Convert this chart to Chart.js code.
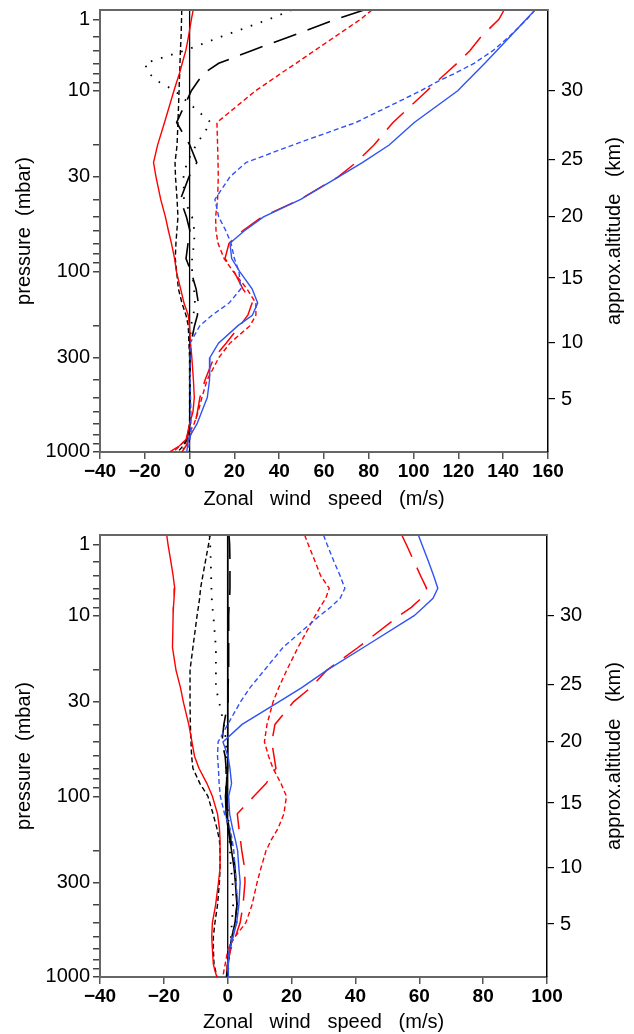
<!DOCTYPE html>
<html><head><meta charset="utf-8">
<script src="https://cdn.jsdelivr.net/npm/chart.js@4"></script>
<style>
html,body{margin:0;padding:0;background:#fff;width:634px;height:1034px;overflow:hidden;}
canvas{position:absolute;left:0;}
#c1{top:0}#c2{top:517px}
</style></head><body>
<canvas id="c1" width="634" height="517"></canvas>
<canvas id="c2" width="634" height="517"></canvas>
<script>
// pressure levels (mbar) at which all profiles are given
const levels = [0.7,1,2,3,4,5,7,10,15,20,25,30,40,50,60,70,85,100,125,150,175,200,250,300,400,500,600,700,850,925,1000];

// ---- top panel: zonal wind (m/s) ----
const topRedSolid   = [1.6,0.8,-0.5,-1.7,-3.3,-4.5,-5.8,-7,-11.2,-14.3,-16.1,-15,-12.9,-10.8,-9.4,-8.1,-6.7,-5.9,-4,-2.5,-0.6,-0.1,0.4,1,1.7,2.1,1.5,0,-1.5,-4.5,-8.8];
const topRedShort   = [81.4,76.3,64.9,55.7,47.5,40.8,35,29.5,12.2,12.5,12.7,12.8,12.5,11.6,11.8,12.7,15.4,19.4,25.6,29.6,29.6,27,18,13.1,7.8,5.5,3.8,2,-1.6,-4.3,-7.3];
const topRedLong    = [140.4,138.1,130.1,125.1,119.4,114.5,110,106,90.8,82.3,74.3,66.3,49.3,32.3,23.4,17.6,15.8,19.8,23.8,27.9,26,22.5,16.3,10.9,6.9,4.6,3.5,2.4,-0.3,-1.6,-3.4];
const topBlueSolid  = [154.2,150.3,143,137.1,131.8,127.4,123.4,119.7,100.3,89.1,77.1,66.5,49.6,33,24.2,18,18.8,22.3,27.9,30.4,28,21.6,12.9,9.1,8.9,7.9,5.4,3.3,-0.7,-0.9,-1.3];
const topBlueShort  = [154.2,150.6,142.6,135.4,127,118.5,110,103.3,74.2,46,25.2,18,11.3,13,16.3,18.5,20,22,22.9,17.6,10,4.6,0.2,0.2,0.2,0.4,0.6,0.6,0.2,-0.3,-0.6];
const topBlackShort = [-3.5,-3.6,-3.8,-4.1,-4.3,-4.4,-4.6,-4.7,-5.2,-5.6,-6.5,-6.3,-5.6,-5.2,-5.7,-6.1,-6.4,-5.8,-5,-3.4,-1.6,-0.6,-0.3,0,0,0,0,0,-1.2,-2.9,-5.2];
const topBlackDot   = [45.6,35.4,14.1,-2.3,-20,-18.3,-13.4,-6.6,9.5,2.9,-1.2,-2.7,-2.5,1.1,2.2,2,1.1,1.1,2,2.4,1.7,0.6,0.2,0.2,0.2,0.2,0.2,0.2,-0.7,-2,-3.4];
const topBlackLong  = [77.9,65.2,44.6,27.6,13,6.3,3.4,0.8,-5.8,0.1,3.2,-0.3,-4.1,-1.4,0.2,-0.7,-1.6,0.6,2.9,3.9,3.5,2.2,0.6,0.2,0.2,0.2,0.2,0.2,-1.2,-2.5,-4.3];

// ---- bottom panel: zonal wind (m/s) ----
const botRedSolid   = [-19.1,-18.7,-17.8,-17.1,-16.6,-16.8,-17,-17.1,-17.3,-16.2,-14.8,-13.9,-12.2,-11.2,-10.4,-9,-6.5,-4.8,-3.2,-2.6,-2.4,-2.4,-2.4,-2.9,-3.8,-4.8,-5,-4.8,-4.5,-4,-3.4];
const botRedShort   = [24.1,25.2,27.4,29.1,31.8,30.7,28.9,27.4,22,18.5,16,14.2,12.3,11.5,12.8,14.2,16.7,18.4,17.6,15.8,13.6,12,10.4,9.2,7.6,5.7,2.3,0.1,-0.8,-1.2,-1.5];
const botRedLong    = [54.5,55.9,58.4,60.4,62.3,60.6,57.5,53.7,40.8,31.1,26,20.6,14.8,13.8,14.5,15.1,12,8.2,3,3.5,4,4.4,5.3,5.4,4.8,3.9,2.4,1,-0.1,-0.2,-0.3];
const botBlueSolid  = [59.7,60.8,62.9,64.5,65.8,64.3,61.3,58.4,42.5,31.1,23.2,16,4.5,-1.5,0.1,0.7,1.2,0.3,0.6,1.5,2.4,3.1,3.5,3.9,3.5,2.8,1.7,0.6,0.2,0.2,0.2];
const botBlueShort  = [30,31.1,33.3,35.2,36.7,35.2,32.2,28.8,17.3,11.5,7,4,0,-3,-3.2,-2.9,-2.7,-2.3,-1,0.7,1.4,1.9,2.3,2.6,3.2,2.9,1.3,0.4,0.1,0.1,0.1];
const botBlackShort = [-5.5,-6,-7,-7.8,-8.5,-8.8,-9.2,-9.6,-10.9,-11.8,-11.8,-11.8,-11.7,-11.5,-11.3,-10.9,-8.7,-6.2,-4.6,-3.4,-2.6,-2.4,-2.4,-2.6,-3.2,-4,-4.5,-4.5,-4.3,-3.8,-3.4];
const botBlackDot   = [-5.7,-5.5,-5.3,-5.2,-5.1,-5,-4.8,-4.5,-3.7,-3.7,-3.7,-2.7,-1.2,-0.5,-0.5,-0.5,-0.2,-0.1,0.1,0.4,0.6,0.7,1,1.5,1.7,1.3,1,0.7,0.3,0.1,0];
const botBlackLong  = [0.4,0.6,0.7,0.7,0.7,0.6,0.4,0.3,0.3,0.3,0.1,0.1,-1.2,-1.8,-0.8,-0.5,-0.5,-0.5,-0.2,0.4,1,1.7,2.3,2.6,2.9,2.3,1.5,0.7,-0.1,-0.2,-0.4];
const botBlackSolid = [0,0,0,0,0,0,0,0,0,0,0,0,0,0,0,0,-0.4,-0.7,-0.5,0.1,0.7,1.2,2,2.4,2.9,2.3,1.3,0.7,0.1,0,0];

// ---- axis ticks and titles ----
const pressureTicks  = [1,2,3,4,5,7,10,20,30,40,50,60,70,80,90,100,200,300,400,500,600,700,800,900,1000];
const pressureLabels = ['1','','','','','','10','','30','','','','','','','100','','300','','','','','','','1000'];
const kmTicks        = [30,25,20,15,10,5];
const kmTickPressure = [10,24,50,109,249,510];
const xTicksTop = [-40,-20,0,20,40,60,80,100,120,140,160];
const xTicksBot = [-40,-20,0,20,40,60,80,100];
const xTitle = 'Zonal   wind   speed   (m/s)';
const yTitle = 'pressure  (mbar)';
const y2Title = 'approx.altitude   (km)';

// vertical coordinate of the plots (log-pressure, compressed above 10 mbar)
const Z_MAX = 442;
const upperKnots = [[0.7,0],[1,9.3],[2,26.7],[3,40.7],[4,53.3],[5,63.3],[7,72.3],[10,80.7]];
function pToZ(p){
  if (p >= 10) return 80.7 + (Math.log10(p) - 1) * 180.6;
  const lp = Math.log10(p);
  for (let i = 1; i < upperKnots.length; i++){
    const a = upperKnots[i-1], b = upperKnots[i];
    if (p <= b[0] || i === upperKnots.length-1){
      const la = Math.log10(a[0]), lb = Math.log10(b[0]);
      return a[1] + (lp - la) / (lb - la) * (b[1] - a[1]);
    }
  }
}

const RED = '#ff0000', BLUE = '#2f52f5', BLACK = '#000000';
const SHORT = [5,3], LONG = [24,12], DOT = [1.6,9];

function series(vals, color, dash, w){
  return {
    data: levels.map((p,i)=>({x: vals[i], y: pToZ(p)})),
    borderColor: color, borderDash: dash || [], borderWidth: w || 1.4,
    pointRadius: 0, showLine: true, fill: false, tension: 0, clip: 0
  };
}
function zeroLine(){
  return {
    data: [{x:0, y:pToZ(levels[0])},{x:0, y:pToZ(levels[levels.length-1])}],
    borderColor: BLACK, borderWidth: 1.3, pointRadius: 0, showLine: true, clip: 0
  };
}

const tickFontY = {family:'Liberation Sans', size:20, weight:'normal'};
const tickFontX = {family:'Liberation Sans', size:19, weight:'bold'};
const titleFont = {family:'Liberation Sans', size:20, weight:'normal'};

const frame = {
  id: 'frame',
  afterDraw(chart){
    const {ctx, chartArea:a} = chart;
    ctx.save();
    ctx.strokeStyle = '#666'; ctx.lineWidth = 2;
    ctx.beginPath(); ctx.moveTo(a.left, a.top); ctx.lineTo(a.right, a.top); ctx.stroke();
    // right-hand axis title, reading bottom to top
    ctx.translate(chart.width - 20, (a.top + a.bottom) / 2);
    ctx.rotate(-Math.PI / 2);
    ctx.fillStyle = '#000';
    ctx.font = '20px "Liberation Sans"';
    ctx.textAlign = 'center'; ctx.textBaseline = 'middle';
    ctx.fillText(y2Title, 0, 0);
    ctx.restore();
  }
};

function makeChart(id, datasets, xTicks, padTop, bottomH, rightW, titleBottomPad){
  const zeroPad = s => { s.paddingTop = 0; s.paddingBottom = 0; s.paddingLeft = 0; s.paddingRight = 0; };
  return new Chart(document.getElementById(id), {
    type: 'scatter',
    data: { datasets },
    plugins: [frame],
    options: {
      responsive: false, animation: false, devicePixelRatio: 1,
      layout: { padding: { top: padTop, left: 0, right: 0, bottom: 0 } },
      plugins: { legend: {display:false}, tooltip: {enabled:false} },
      scales: {
        x: {
          type: 'linear', position: 'bottom', min: xTicks[0], max: xTicks[xTicks.length-1],
          afterBuildTicks: s => { s.ticks = xTicks.map(v => ({value: v})); },
          ticks: { autoSkip:false, maxRotation:0, color:'#000', font: tickFontX, padding: 1,
                   callback: v => v < 0 ? '\u2212' + Math.abs(v) : String(v) },
          grid: { display:true, drawOnChartArea:false, drawTicks:true, tickLength:7, color:'#555', lineWidth:1.5 },
          border: { display:true, color:'#666', width:2 },
          title: { display:true, text: xTitle, color:'#000', font: titleFont, padding:{top:0, bottom:titleBottomPad} },
          afterFit: s => { s.height = bottomH; zeroPad(s); }
        },
        y: {
          type: 'linear', position: 'left', reverse: true, min: 0, max: Z_MAX,
          afterBuildTicks: s => { s.ticks = pressureTicks.map(p => ({value: pToZ(p)})); },
          ticks: { autoSkip:false, color:'#000', font: tickFontY, padding: 3,
                   callback: (v, i) => pressureLabels[i] },
          grid: { display:true, drawOnChartArea:false, drawTicks:true, tickLength:7, color:'#444', lineWidth:1.5 },
          border: { display:true, color:'#666', width:2 },
          title: { display:true, text: yTitle, color:'#000', font: titleFont, padding:{top:12, bottom:0} },
          afterFit: s => { s.width = 100; zeroPad(s); }
        },
        y2: {
          type: 'linear', position: 'right', reverse: true, min: 0, max: Z_MAX,
          afterBuildTicks: s => { s.ticks = kmTickPressure.map(p => ({value: pToZ(p)})); },
          ticks: { autoSkip:false, color:'#000', font: tickFontY, padding: 6,
                   callback: (v, i) => String(kmTicks[i]) },
          grid: { display:true, drawOnChartArea:false, drawTicks:true, tickLength:7, color:'#000', lineWidth:1.2 },
          border: { display:true, color:'#000', width:1.5 },
          title: { display:false },
          afterFit: s => { s.width = rightW; zeroPad(s); }
        }
      }
    }
  });
}

makeChart('c1', [
  series(topBlueSolid, BLUE),
  series(topBlueShort, BLUE, SHORT),
  series(topRedSolid, RED),
  series(topRedShort, RED, SHORT),
  series(topRedLong, RED, LONG, 1.5),
  series(topBlackShort, BLACK, SHORT),
  series(topBlackDot, BLACK, DOT, 1.8),
  series(topBlackLong, BLACK, LONG, 1.6),
  zeroLine()
], xTicksTop, 10, 65, 86, 6);

makeChart('c2', [
  series(botBlueSolid, BLUE),
  series(botBlueShort, BLUE, SHORT),
  series(botRedSolid, RED),
  series(botRedShort, RED, SHORT),
  series(botRedLong, RED, LONG, 1.5),
  series(botBlackSolid, BLACK, [], 1.6),
  series(botBlackShort, BLACK, SHORT),
  series(botBlackDot, BLACK, DOT, 1.8),
  series(botBlackLong, BLACK, LONG, 1.6),
  zeroLine()
], xTicksBot, 18, 57, 87, 0);
</script>
</body></html>
